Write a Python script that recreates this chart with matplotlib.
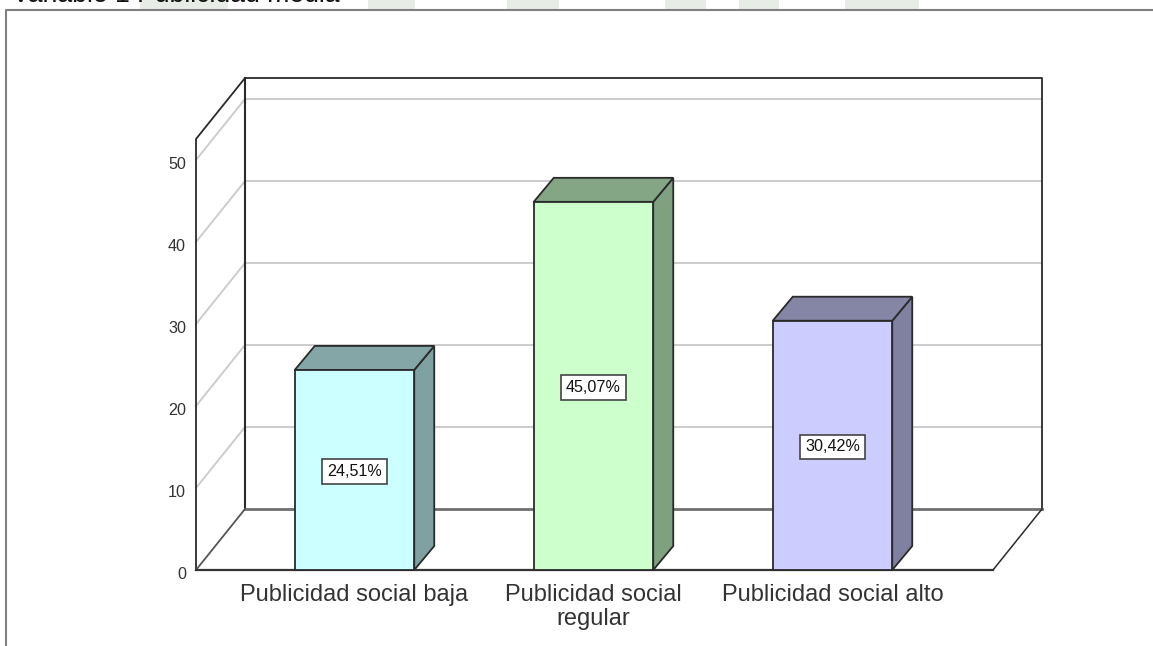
import matplotlib
matplotlib.use("Agg")
from matplotlib import pyplot as plt
from matplotlib.lines import Line2D
from matplotlib.patches import Rectangle

plt.rcParams['font.family'] = ['Liberation Sans', 'DejaVu Sans']

# values
categories = ['Publicidad social baja', 'Publicidad social\nregular', 'Publicidad social alto']
bar_heights = [24.4, 44.9, 30.4]
percent_labels = ['24,51%', '45,07%', '30,42%']
front_colors = ['#CCFFFF', '#CCFFCC', '#CCCCFF']
side_colors = ['#7FA1A1', '#80A180', '#8080A1']
top_colors = ['#84A6A6', '#85A685', '#8585A6']
y_ticks = [0, 10, 20, 30, 40, 50]
title = 'Variable 1 Publicidad media'

W, H = 1153, 646
PX_X = 239.0   # pixels per category
PX_Y = 8.2     # pixels per percent point
X0, Y0 = 354.5, 570.0   # pixel spot of category 0, value 0

# 3d look, in data units
BACK_DX, BACK_DY = 49 / PX_X, 61 / PX_Y
BAR_DX, BAR_DY = 20 / PX_X, 24 / PX_Y
LEFT, RIGHT = (196 - X0) / PX_X, (993 - X0) / PX_X
Y_TOP = (570 - 139) / PX_Y
BAR_W = 119.5 / PX_X

GRID = '#cccccc'
EDGE = '#2a2a2a'

fig = plt.figure(figsize=(W / 100, H / 100), dpi=100, facecolor='white')
ax = fig.add_axes([0, 0, 1, 1])
ax.set_xlim(-X0 / PX_X, (W - X0) / PX_X)
ax.set_ylim((Y0 - H) / PX_Y, Y0 / PX_Y)
ax.axis('off')


def fig_line(xs, ys, color, lw):
    fig.add_artist(Line2D([x / W for x in xs], [1 - y / H for y in ys], color=color, lw=lw))


# faint watermark left over above the frame
for x, w in [(140, 88), (368, 47), (507, 52), (665, 41), (739, 40), (845, 74)]:
    fig.add_artist(Rectangle((x / W, 1 - 9 / H), w / W, 9 / H, transform=fig.transFigure,
                             color='#e8ece6', lw=0))

# the reference cuts this line off at the top edge
fig.text(12 / W, 1 - 1.5 / H, title, fontsize=19.2, color='#111111', va='baseline', ha='left')

# outer frame, only top and left show
fig_line([6, 6, W], [H, 10, 10], '#808080', 1.5)

# grid on side and back wall
for t in y_ticks[1:]:
    ax.plot([LEFT, LEFT + BACK_DX, RIGHT + BACK_DX],
            [t, t + BACK_DY, t + BACK_DY], color=GRID, lw=1.4, zorder=1)

# walls
ax.plot([LEFT, LEFT, LEFT + BACK_DX, RIGHT + BACK_DX, RIGHT + BACK_DX],
        [0, Y_TOP, Y_TOP + BACK_DY, Y_TOP + BACK_DY, BACK_DY], color=EDGE, lw=1.3, zorder=2)
ax.plot([LEFT + BACK_DX, LEFT + BACK_DX], [BACK_DY, Y_TOP + BACK_DY], color=EDGE, lw=1.5, zorder=2)

# floor
ax.plot([LEFT + BACK_DX, RIGHT + BACK_DX], [BACK_DY, BACK_DY], color='#707070', lw=2.0, zorder=2)
ax.plot([LEFT, LEFT + BACK_DX], [0, BACK_DY], color='#555555', lw=1.3, zorder=2)
ax.plot([RIGHT, RIGHT + BACK_DX], [0, BACK_DY], color=EDGE, lw=1.1, zorder=2)
ax.plot([LEFT, RIGHT], [0, 0], color='#333333', lw=1.6, zorder=2)

# bars
for i, v in enumerate(bar_heights):
    l, r = i - BAR_W / 2, i + BAR_W / 2
    ax.fill([r, r + BAR_DX, r + BAR_DX, r], [0, BAR_DY, v + BAR_DY, v],
            facecolor=side_colors[i], edgecolor=EDGE, lw=1.3, zorder=3)
    ax.fill([l, l + BAR_DX, r + BAR_DX, r], [v, v + BAR_DY, v + BAR_DY, v],
            facecolor=top_colors[i], edgecolor=EDGE, lw=1.3, zorder=3)
    ax.bar(i, v, width=BAR_W, color=front_colors[i], edgecolor=EDGE, lw=1.3, zorder=4)
    ax.text(i, v / 2 - 1.5 / PX_Y, percent_labels[i], fontsize=11.6, color='#111111',
            ha='center', va='center', zorder=5,
            bbox=dict(boxstyle='square,pad=0.3', fc='white', ec='#444444', lw=1.2))

# labels
for t in y_ticks:
    ax.text(LEFT - 10 / PX_X, t - 4.5 / PX_Y, str(t), fontsize=11.6, color='#333333', ha='right', va='center')

for i, c in enumerate(categories):
    ax.text(i, -14 / PX_Y, c, fontsize=17, color='#333333', ha='center', va='top', linespacing=1.12)

fig.savefig('out.png', dpi=100)
